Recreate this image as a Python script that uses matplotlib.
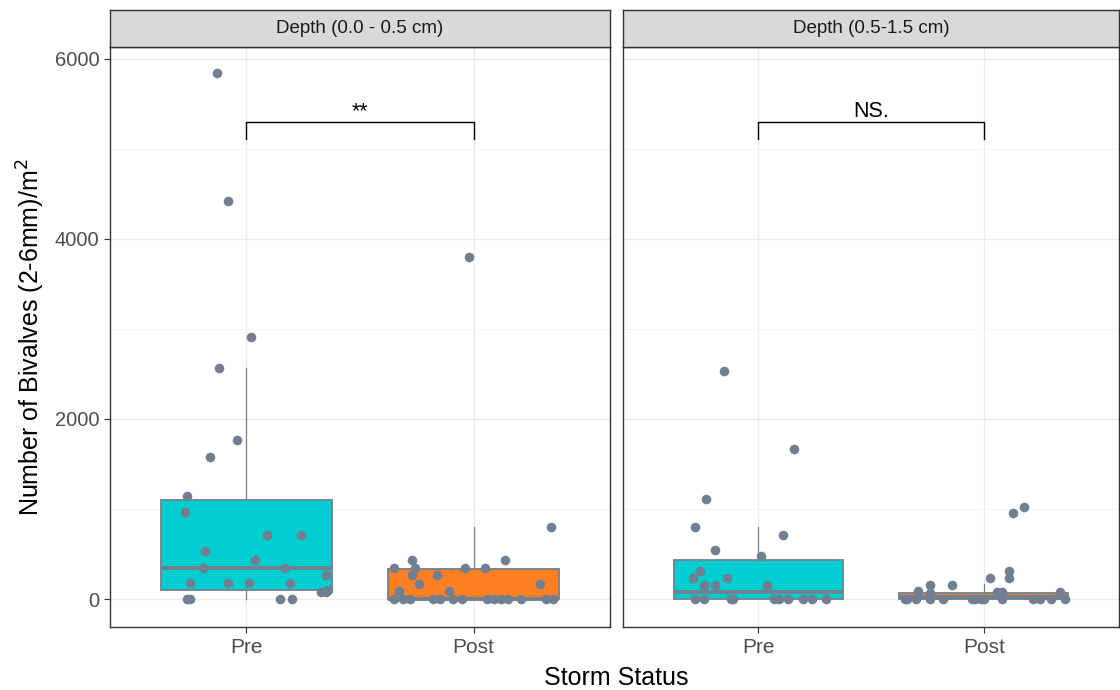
import matplotlib.pyplot as plt

plt.rcParams['font.family'] = ['Liberation Sans', 'DejaVu Sans']

# categories and facets
groups = ["Pre", "Post"]
facets = ["Depth (0.0 - 0.5 cm)", "Depth (0.5-1.5 cm)"]
box_colors = ["#00CED1", "#FF7F24"]
point_color = "#708090"

# box statistics: (q1, median, q3, whisker low, whisker high)
box_stats = {
    (0, "Pre"): (100, 344, 1100, 0, 2570),
    (0, "Post"): (0, 0, 333, 0, 800),
    (1, "Pre"): (0, 78, 433, 0, 800),
    (1, "Post"): (0, 20, 67, 0, 167),
}

# raw points (value, horizontal jitter in category units)
shallow_pre_vals = [5844, 4422, 2911, 2567, 1767, 1578, 1144, 967, 711, 711, 533, 433,
                    344, 344, 178, 178, 178, 178, 267, 78, 78, 100, 0, 0, 0, 0]
shallow_pre_jit = [-0.13, -0.08, 0.02, -0.12, -0.04, -0.16, -0.26, -0.27, 0.09, 0.24, -0.18, 0.04,
                   -0.19, 0.17, -0.25, -0.08, 0.01, 0.19, 0.35, 0.33, 0.35, 0.36, -0.26, -0.25, 0.15, 0.20]

shallow_post_vals = [3800, 344, 433, 344, 267, 267, 167, 89, 89, 344, 344, 433, 167, 800,
                     0, 0, 0, 0, 0, 0, 0, 0, 0, 0, 0, 0, 0, 0]
shallow_post_jit = [-0.02, -0.35, -0.27, -0.26, -0.27, -0.16, -0.24, -0.33, -0.11, -0.04, 0.05, 0.14, 0.29, 0.34,
                    -0.35, -0.31, -0.28, -0.18, -0.15, -0.09, -0.05, 0.06, 0.09, 0.12, 0.15, 0.21, 0.32, 0.35]

deep_pre_vals = [2533, 1667, 1111, 800, 544, 711, 478, 311, 233, 233, 156, 156, 156,
                 0, 0, 0, 0, 0, 0, 0, 0, 0, 0]
deep_pre_jit = [-0.15, 0.16, -0.23, -0.28, -0.19, 0.11, 0.01, -0.26, -0.29, -0.14, -0.24, -0.19, 0.04,
                -0.28, -0.24, -0.12, -0.11, 0.07, 0.09, 0.13, 0.20, 0.24, 0.30]

deep_post_vals = [1022, 956, 311, 233, 233, 156, 156, 89, 67, 78, 78, 78,
                  0, 0, 0, 0, 0, 0, 0, 0, 0, 0, 0, 0, 0, 0]
deep_post_jit = [0.18, 0.13, 0.11, 0.11, 0.03, -0.14, -0.24, -0.29, -0.24, 0.06, 0.08, 0.34,
                 -0.35, -0.34, -0.30, -0.24, -0.18, -0.05, -0.04, -0.01, 0.0, 0.08, 0.22, 0.25, 0.30, 0.36]

points = {
    (0, "Pre"): (shallow_pre_vals, shallow_pre_jit),
    (0, "Post"): (shallow_post_vals, shallow_post_jit),
    (1, "Pre"): (deep_pre_vals, deep_pre_jit),
    (1, "Post"): (deep_post_vals, deep_post_jit),
}

# significance labels
sig_labels = ["**", "NS."]
bracket_y = 5300
bracket_drop = 190

yticks = [0, 2000, 4000, 6000]
minor_ticks = [1000, 3000, 5000]

fig = plt.figure(figsize=(11.2, 6.9), dpi=100)
bottom, top = 1 - 627 / 690, 1 - 47 / 690
strip_h = 37 / 690
lefts = [110 / 1120, 623 / 1120]
widths = [500 / 1120, 496 / 1120]

for i, facet in enumerate(facets):
    ax = fig.add_axes([lefts[i], bottom, widths[i], top - bottom])
    ax.set_xlim(0.4, 2.6)
    ax.set_ylim(-311, 6133)

    # grid
    for y in yticks:
        ax.axhline(y, color="#EBEBEB", lw=1.0, zorder=0)
    for y in minor_ticks:
        ax.axhline(y, color="#F2F2F2", lw=0.6, zorder=0)
    for x in [1, 2]:
        ax.axvline(x, color="#EBEBEB", lw=1.0, zorder=0)

    for j, g in enumerate(groups):
        q1, med, q3, lo, hi = box_stats[(i, g)]
        stat = dict(q1=q1, med=med, q3=q3, whislo=lo, whishi=hi, fliers=[])
        ax.bxp([stat], positions=[j + 1], widths=0.75, patch_artist=True,
               showcaps=False, showfliers=False,
               boxprops=dict(facecolor=box_colors[j], edgecolor=point_color, lw=1.3),
               medianprops=dict(color=point_color, lw=2.8),
               whiskerprops=dict(color=point_color, lw=0.9),
               zorder=2)
        vals, jit = points[(i, g)]
        xs = [j + 1 + d for d in jit]
        ax.scatter(xs, vals, s=48, color=point_color, zorder=4, linewidths=0)

    # significance bracket
    ax.plot([1, 1, 2, 2], [bracket_y - bracket_drop, bracket_y, bracket_y, bracket_y - bracket_drop],
            color="black", lw=1.0, zorder=5)
    ax.text(1.5, bracket_y + 55, sig_labels[i], ha="center", va="baseline",
            fontsize=15.5, color="black")

    ax.set_xticks([1, 2])
    ax.set_xticklabels(groups, fontsize=15, color="#4D4D4D")
    ax.set_yticks(yticks)
    if i == 0:
        ax.set_yticklabels([str(v) for v in yticks], fontsize=14.5, color="#4D4D4D")
        ax.set_ylabel(r"Number of Bivalves (2-6mm)/m$^{2}$", fontsize=18, labelpad=6)
        ax.tick_params(axis="y", length=4, color="#333333")
    else:
        ax.set_yticklabels([])
        ax.tick_params(axis="y", length=0)
    ax.tick_params(axis="x", length=4, color="#333333", pad=4)
    for sp in ax.spines.values():
        sp.set_color("#333333")
        sp.set_linewidth(1.0)

    # facet strip
    sax = fig.add_axes([lefts[i], top, widths[i], strip_h])
    sax.set_xticks([])
    sax.set_yticks([])
    sax.set_facecolor("#D9D9D9")
    for sp in sax.spines.values():
        sp.set_color("#333333")
        sp.set_linewidth(1.0)
    sax.text(0.5, 0.5, facet, ha="center", va="center", fontsize=13.5,
             color="#1A1A1A", transform=sax.transAxes)

fig.text(0.5504, 0.0, "Storm Status", ha="center", va="bottom", fontsize=18)

fig.savefig("out.png", dpi=100)
